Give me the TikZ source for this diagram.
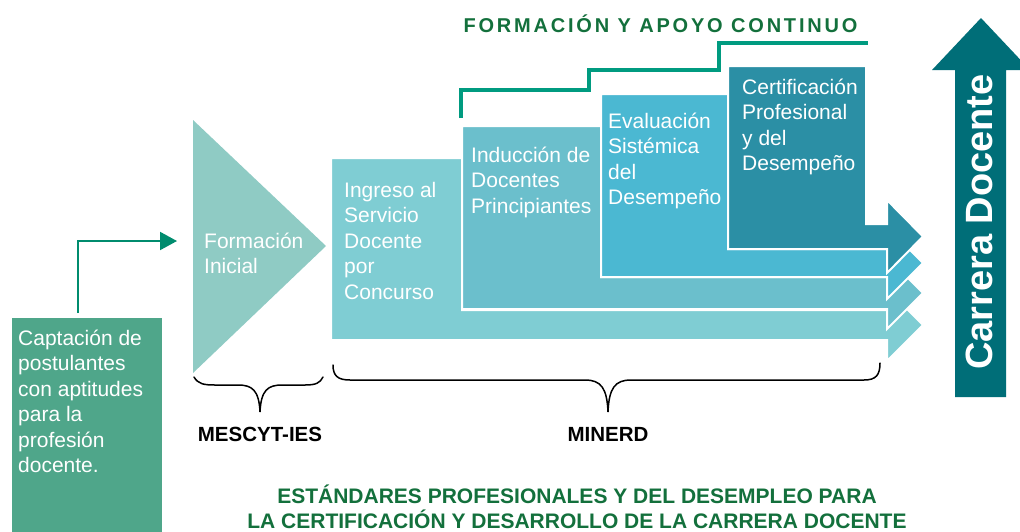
\documentclass[tikz,border=0pt]{standalone}
\usepackage{fontspec}
\setmainfont{Liberation Sans}
\usetikzlibrary{arrows.meta}
\definecolor{captc}{HTML}{4FA68A}
\definecolor{formc}{HTML}{8FCBC4}
\definecolor{ingc}{HTML}{7FCDD3}
\definecolor{indc}{HTML}{6BBFCC}
\definecolor{evac}{HTML}{4BB8D2}
\definecolor{cerc}{HTML}{2B8FA5}
\definecolor{carc}{HTML}{006E78}
\definecolor{connc}{HTML}{008C6E}
\definecolor{stepc}{HTML}{009B80}
\definecolor{titlec}{HTML}{13703C}
\newcommand\txtlines[1]{\parbox[t]{200pt}{\raggedright #1}}
\begin{document}
\begin{tikzpicture}[x=1pt,y=-1pt,
  boxtext/.style={anchor=base west, inner sep=0pt, text=white, font=\fontsize{21}{25.5}\selectfont},
  stage/.style={draw=white, line width=2pt, line join=miter},
  conn/.style={draw=connc, line width=2pt, -{Triangle[length=17pt,width=18pt]}},
  bracestyle/.style={draw=black, line width=1.5pt, line cap=round},
  agency/.style={anchor=base, inner sep=0pt, font=\fontsize{20.5}{24}\selectfont\bfseries}
]
\useasboundingbox (0,0) rectangle (1020,531);
\clip (0,0) rectangle (1020,531);
\fill[white] (0,0) rectangle (1020,531);

% Captacion box
\node[fill=captc, inner sep=0pt, minimum width=150pt, minimum height=220pt, anchor=north west] (capt) at (12,318) {};
\node[boxtext] (capttxt) at (18,345) {\txtlines{Captación de\\postulantes\\con aptitudes\\para la\\profesión\\docente.}};

% Formacion inicial triangle
\fill[formc] (193,120) -- (326,246) -- (193,373) -- cycle;
\coordinate (fiwest) at (193,241);
\node[boxtext] (fitxt) at (204,248) {\txtlines{Formación\\Inicial}};

% connector
\draw[conn] ([xshift=-9pt,yshift=5pt]capt.north) |- ([xshift=-16pt]fiwest);

% stages (bottom to top)
\path[stage, fill=ingc] (331,158) -- (462,158) -- (462,310) -- (887,310) -- (887,289) -- (923,325) -- (887,361) -- (887,340) -- (331,340) -- cycle;
\path[stage, fill=indc] (462,126) -- (601,126) -- (601,277) -- (887,277) -- (887,257) -- (923,293) -- (887,329) -- (887,309) -- (462,309) -- cycle;
\path[stage, fill=evac] (601,94) -- (728,94) -- (728,249) -- (887,249) -- (887,227) -- (923,263) -- (887,299) -- (887,277) -- (601,277) -- cycle;
\path[stage, fill=cerc] (728,66) -- (866,66) -- (866,224) -- (887,224) -- (887,200) -- (923,236.5) -- (887,273) -- (887,249) -- (728,249) -- cycle;

\node[boxtext] (ingtxt) at (344,197) {\txtlines{Ingreso al\\Servicio\\Docente\\por\\Concurso}};
\node[boxtext] (indtxt) at (471,162) {\txtlines{Inducción de\\Docentes\\Principiantes}};
\node[boxtext] (evatxt) at (608,128) {\txtlines{Evaluación\\Sistémica\\del\\Desempeño}};
\node[boxtext] (certxt) at (742,94) {\txtlines{Certificación\\Profesional\\y del\\Desempeño}};

% step line
\draw[stepc, line width=4pt] (461,118) -- (461,90) -- (589,90) -- (589,70) -- (719,70) -- (719,43) -- (868,43);
\node[anchor=base, inner sep=0pt, text=titlec, font=\fontsize{20}{24}\selectfont\bfseries\addfontfeature{LetterSpace=14}] (title) at (660.5,32) {FORMACIÓN Y APOYO CONTINUO};

% Carrera docente arrow
\fill[carc] (955,397) -- (955,70) -- (932,70) -- (981,18) -- (1030,70) -- (1006,70) -- (1006,397) -- cycle;
\node[anchor=base, inner sep=0pt, rotate=90, text=white, font=\fontsize{38}{44}\selectfont\bfseries] (carrera) at (992,222) {Carrera Docente};

% braces
\draw[bracestyle] (194,377) .. controls (198,384) and (204,385) .. (215,385) -- (238,385) .. controls (252,385) and (259,390) .. (260,412) .. controls (261,390) and (268,385) .. (282,385) -- (305,385) .. controls (316,385) and (320,383) .. (323,377);
\draw[bracestyle] (333,365) .. controls (333,376) and (338,380) .. (350,380) -- (585,380) .. controls (601,380) and (607,388) .. (608,412) .. controls (609,388) and (615,380) .. (631,380) -- (864,380) .. controls (876,380) and (880,375) .. (880,363);

\node[agency] (mescyt) at (260,441) {MESCYT-IES};
\node[agency] (minerd) at (608,441) {MINERD};

% bottom text
\node[anchor=base, inner sep=0pt, text=titlec, font=\fontsize{21}{25.5}\selectfont\bfseries] (std) at (577,503) {\parbox[t]{720pt}{\centering ESTÁNDARES PROFESIONALES Y DEL DESEMPLEO PARA\\LA CERTIFICACIÓN Y DESARROLLO DE LA CARRERA DOCENTE}};
\end{tikzpicture}
\end{document}
